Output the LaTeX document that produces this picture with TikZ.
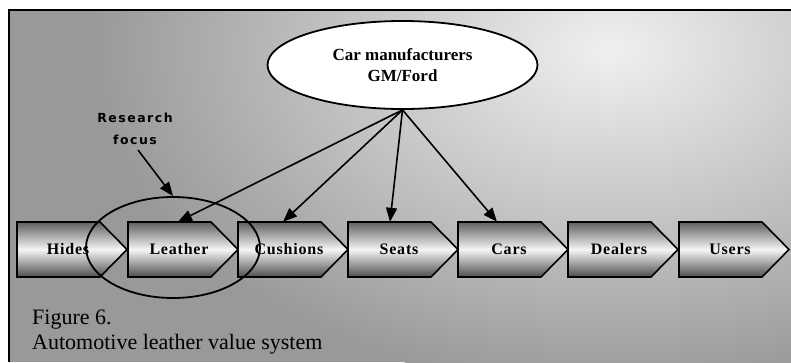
\documentclass[tikz,border=0pt]{standalone}
\usepackage{fontspec}
\setmainfont{Liberation Serif}
\newfontfamily\stagefont[LetterSpace=5]{Liberation Serif}
\newfontfamily\notefont[LetterSpace=12]{DejaVu Sans}
\usetikzlibrary{shapes.geometric,arrows.meta,calc}
\definecolor{bgmid}{gray}{0.60}
\definecolor{bglight}{gray}{0.94}
\definecolor{boxdark}{gray}{0.38}
\definecolor{boxlight}{gray}{0.96}
\tikzset{
  stagebox/.style={draw=black,line width=1.6pt,top color=boxdark,bottom color=boxdark!80!black,middle color=boxlight},
  stagetext/.style={inner sep=0pt,minimum height=55pt,font=\stagefont\bfseries\fontsize{16}{18}\selectfont},
  arr/.style={line width=1.6pt,-{Triangle[length=14pt,width=11pt]}},
  outline/.style={draw=black,line width=1.8pt},
}
\begin{document}
\begin{tikzpicture}[x=1pt,y=-1pt]
\useasboundingbox (0,0) rectangle (791,362);
\fill[white] (0,0) rectangle (791,362);
% background
\fill[bgmid] (9,10) rectangle (791,362);
\begin{scope}
  \clip (9,10) rectangle (791,362);
  \shade[inner color=bglight,outer color=bgmid] (610,50) ellipse (520 and 340);
\end{scope}
\draw[line width=2.5pt] (9,362) -- (9,10) -- (791,10);
% stages
\foreach \x/\name/\lab in {17/hides/Hides,128/leather/Leather,238/cushions/Cushions,348/seats/Seats,458/cars/Cars,568/dealers/Dealers,679/users/Users}{
  \path[stagebox] (\x,222) -- ++(83,0) -- ++(27,27.5) -- ++(-27,27.5) -- ++(-83,0) -- cycle;
  \node[stagetext] (\name) at (\x+51,249.5) {\lab};
}
% manufacturers
\node[ellipse,outline,fill=white,minimum width=270pt,minimum height=88pt,inner sep=0pt,align=center,
      font=\bfseries\fontsize{17}{21}\selectfont] (maker) at (402.5,65) {Car manufacturers\\GM/Ford};
% research focus
\node[ellipse,outline,minimum width=174pt,minimum height=101pt,inner sep=0pt] (focus) at (173,247.5) {};
\node[align=center,inner sep=1pt,font=\notefont\bfseries\fontsize{12.5}{22}\selectfont] (research) at (135,129) {Research\\focus};
\draw[arr,shorten <=5pt] (research.south) -- (focus.north);
% connectors
\draw[arr] (maker.south) -- ($(leather.north)+(-1,0)$);
\draw[arr] (maker.south) -- ($(cushions.north)+(-6,0)$);
\draw[arr] (maker.south) -- ($(seats.north)+(-9,0)$);
\draw[arr] (maker.south) -- ($(cars.north)+(-12,0)$);
% caption
\node[anchor=base west,inner sep=0pt,font=\fontsize{22}{24}\selectfont] (fig) at (32,324) {Figure 6.};
\node[anchor=base west,inner sep=0pt,font=\fontsize{22}{24}\selectfont] (cap) at (32,349) {Automotive leather value system};
\end{tikzpicture}
\end{document}
